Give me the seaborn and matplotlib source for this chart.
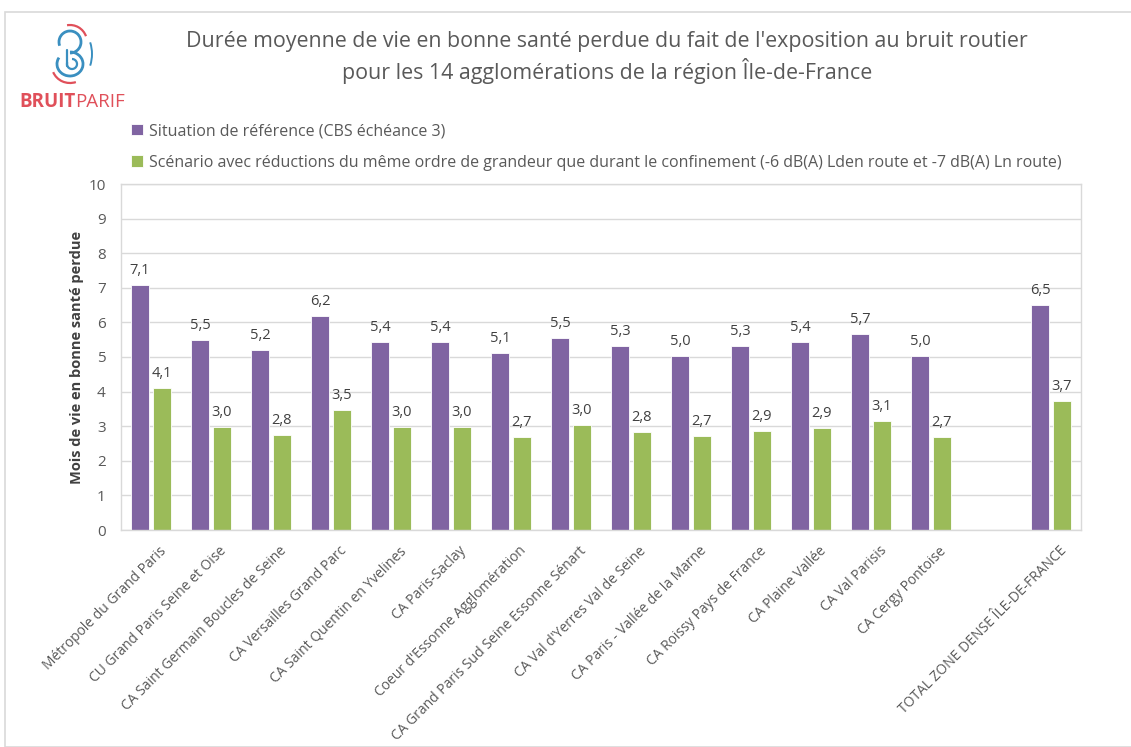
import numpy as np
import pandas as pd
import matplotlib
matplotlib.use("Agg")
import matplotlib.pyplot as plt
import matplotlib.transforms as mtrans
import seaborn as sns
from matplotlib.patches import Arc, Rectangle

# données
agglos = ["Métropole du Grand Paris", "CU Grand Paris Seine et Oise",
          "CA Saint Germain Boucles de Seine", "CA Versailles Grand Parc",
          "CA Saint Quentin en Yvelines", "CA Paris-Saclay",
          "Coeur d'Essonne Agglomération", "CA Grand Paris Sud Seine Essonne Sénart",
          "CA Val d'Yerres Val de Seine", "CA Paris - Vallée de la Marne",
          "CA Roissy Pays de France", "CA Plaine Vallée", "CA Val Parisis",
          "CA Cergy Pontoise", " ", "TOTAL ZONE DENSE ÎLE-DE-FRANCE"]
reference = [7.08, 5.49, 5.20, 6.18, 5.44, 5.44, 5.11, 5.54, 5.31, 5.04,
             5.31, 5.44, 5.67, 5.04, np.nan, 6.51]
scenario = [4.11, 2.99, 2.76, 3.46, 2.99, 2.99, 2.70, 3.04, 2.83, 2.73,
            2.86, 2.94, 3.14, 2.69, np.nan, 3.73]
serie_ref = "Situation de référence (CBS échéance 3)"
serie_scen = ("Scénario avec réductions du même ordre de grandeur que durant le "
              "confinement (-6 dB(A) Lden route et -7 dB(A) Ln route)")

df = pd.DataFrame({"agglo": agglos * 2,
                   "valeur": reference + scenario,
                   "serie": [serie_ref] * len(agglos) + [serie_scen] * len(agglos)})
df = df.dropna()

sns.set_style("white")
plt.rcParams["font.family"] = ["Open Sans", "DejaVu Sans"]
gris = "#595959"

fig = plt.figure(figsize=(11.31, 7.47), dpi=100)
ax = fig.add_axes([121 / 1131, 1 - 530 / 747, 960 / 1131, 346 / 747])

sns.barplot(data=df, x="agglo", y="valeur", hue="serie", order=agglos,
            hue_order=[serie_ref, serie_scen], palette=["#8064A2", "#9BBB59"],
            saturation=1, width=0.73, gap=0.14, edgecolor="white", linewidth=0.6,
            legend=True, ax=ax)

for cont in ax.containers:
    ax.bar_label(cont, labels=[f"{v:.1f}".replace(".", ",") for v in cont.datavalues],
                 padding=5, fontsize=10.5, color="#404040")

ax.set_ylim(0, 10)
ax.set_yticks(range(0, 11))
ax.set_xlim(-0.5, len(agglos) - 0.5)
ax.yaxis.grid(True, color="#D9D9D9", linewidth=1)
ax.set_axisbelow(True)
for s in ax.spines.values():
    s.set_color("#D9D9D9")
    s.set_linewidth(1)
ax.tick_params(axis="y", labelsize=11, colors=gris, length=0, pad=11)
ax.tick_params(axis="x", length=0, pad=4)
decal = mtrans.ScaledTranslation(8 / 100, -8 / 100, fig.dpi_scale_trans)
for lab in ax.get_xticklabels():
    lab.set_rotation(45)
    lab.set_ha("right")
    lab.set_rotation_mode("anchor")
    lab.set_fontsize(10)
    lab.set_color(gris)
    lab.set_transform(lab.get_transform() + decal)
ax.set_xlabel("")
ax.set_ylabel("Mois de vie en bonne santé perdue", fontsize=10.5,
              fontweight="bold", color="#404040", labelpad=3)

handles, labels = ax.get_legend_handles_labels()
ax.get_legend().remove()
fig.legend(handles, labels, loc="upper left", bbox_to_anchor=(117 / 1131, 1 - 109 / 747),
           frameon=False, fontsize=11.5, handlelength=0.7, handleheight=0.7,
           handletextpad=0.4, labelspacing=0.95, labelcolor=gris)

fig.text(607 / 1131, 1 - 42 / 747,
         "Durée moyenne de vie en bonne santé perdue du fait de l'exposition au bruit routier",
         ha="center", va="center", fontsize=15.4, color=gris)
fig.text(607 / 1131, 1 - 71 / 747,
         "pour les 14 agglomérations de la région Île-de-France",
         ha="center", va="center", fontsize=15.4, color=gris)

# cadre extérieur
fig.patches.append(Rectangle((5 / 1131, 0), 1.2, 1 - 12 / 747, transform=fig.transFigure,
                             fill=False, edgecolor="#D9D9D9", linewidth=1.2))

# logo Bruitparif
rouge, bleu = "#E0505A", "#3A8FC0"
t_bruit = fig.text(19 / 1131, 1 - 102 / 747, "BRUIT", fontsize=13.5, fontweight="bold",
                   color=rouge, va="center")
fig.canvas.draw()
x_fin = t_bruit.get_window_extent().x1
fig.text(x_fin / 1131, 1 - 102 / 747, "PARIF", fontsize=13.5, color=rouge, va="center")

lax = fig.add_axes([48 / 1131, 1 - 86 / 747, 50 / 1131, 64 / 747])
lax.set_xlim(0, 50)
lax.set_ylim(0, 64)
lax.axis("off")
lax.add_patch(Arc((22, 44), 22, 22, theta1=-90, theta2=200, color=bleu, lw=2))
lax.add_patch(Arc((22, 22), 26, 24, theta1=-210, theta2=90, color=bleu, lw=2))
lax.add_patch(Arc((24, 22), 10, 10, theta1=-200, theta2=90, color=bleu, lw=1.6))
lax.plot([19, 19], [20, 36], color=bleu, lw=1.6)
lax.add_patch(Arc((22, 44), 34, 34, theta1=20, theta2=100, color=rouge, lw=1.6))
lax.add_patch(Arc((22, 20), 36, 34, theta1=200, theta2=290, color=rouge, lw=1.6))
lax.add_patch(Arc((22, 32), 44, 58, theta1=-30, theta2=30, color=bleu, lw=1.4))

fig.savefig("out.png", dpi=100)
